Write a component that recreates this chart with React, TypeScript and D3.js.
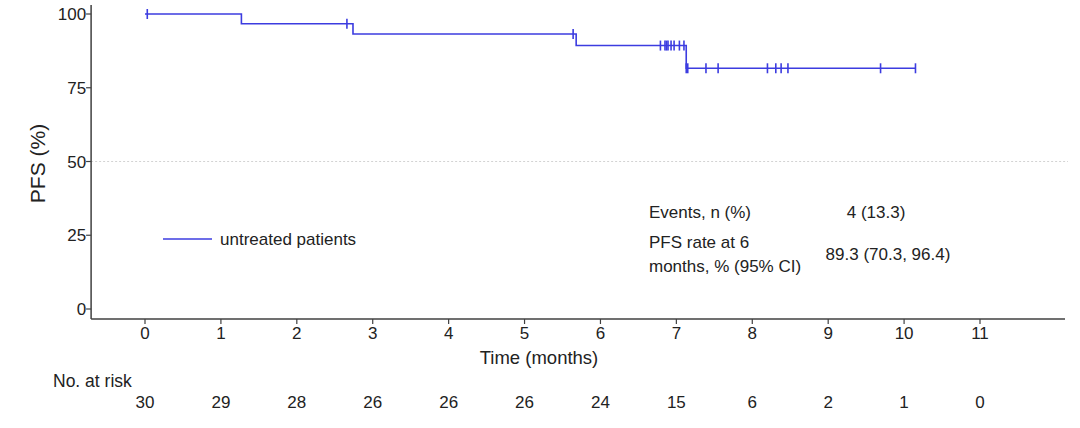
import React from 'react';
import * as d3 from 'd3';

// ── Data ──────────────────────────────────────────────────────────────────────
const stepTimes = [0, 1.27, 2.74, 5.68, 7.13];
const stepSurv = [100, 96.7, 93.2, 89.3, 81.6];
const lastTime = 10.15;

const censorTimes = [
  0.03, 2.66, 5.64, 6.79, 6.85, 6.87, 6.89, 6.93, 6.97, 7.04, 7.1,
  7.13, 7.15, 7.39, 7.55, 8.2, 8.31, 8.38, 8.47, 9.69, 10.15,
];

const xTicks = [0, 1, 2, 3, 4, 5, 6, 7, 8, 9, 10, 11];
const yTicks = [0, 25, 50, 75, 100];
const riskCounts = [30, 29, 28, 26, 26, 26, 24, 15, 6, 2, 1, 0];

const seriesName = 'untreated patients';
const statRows = [
  { label: ['Events, n (%)'], value: '4 (13.3)' },
  { label: ['PFS rate at 6', 'months, % (95% CI)'], value: '89.3 (70.3, 96.4)' },
];

// ── Styles ────────────────────────────────────────────────────────────────────
const W = 1080;
const H = 428;
const FONT = '"Liberation Sans", Arial, sans-serif';
const AXIS = '#404040';
const BLUE = '#3c3ce0';
const INK = '#222';

const survAt = (t: number) => {
  let s = stepSurv[0];
  stepTimes.forEach((st, i) => { if (t >= st) s = stepSurv[i]; });
  return s;
};

export default function App() {
  const x = d3.scaleLinear().domain([0, 11]).range([145, 980]);
  const y = d3.scaleLinear().domain([0, 100]).range([309, 14]);

  const axisX0 = x(-0.71);
  const axisX1 = x(12.12);
  const axisY = 319;

  const pts: [number, number][] = stepTimes.map((t, i) => [t, stepSurv[i]]);
  pts.push([lastTime, stepSurv[stepSurv.length - 1]]);
  const line = d3.line<[number, number]>()
    .x(d => x(d[0]))
    .y(d => y(d[1]))
    .curve(d3.curveStepAfter);

  return (
    <svg width={W} height={H} style={{ position: 'absolute', left: 0, top: 0, background: '#fff' }}
      fontFamily={FONT}>
      {/* 50% reference line */}
      <line x1={axisX0} x2={1068} y1={y(50)} y2={y(50)} stroke="#c8c8c8" strokeWidth={0.8} strokeDasharray="2,2" />

      {/* Y axis */}
      <line x1={axisX0} x2={axisX0} y1={5} y2={axisY} stroke={AXIS} strokeWidth={1.5} />
      {yTicks.map(t => (
        <g key={t}>
          <line x1={axisX0 - 5} x2={axisX0} y1={y(t)} y2={y(t)} stroke={AXIS} strokeWidth={1.2} />
          <text x={axisX0 - 5} y={y(t)} dy="0.36em" textAnchor="end" fontSize={17} fill={INK}>{t}</text>
        </g>
      ))}
      <text transform={`translate(38,${y(50) + 2}) rotate(-90)`} textAnchor="middle" dy="0.35em"
        fontSize={21} fill={INK}>PFS (%)</text>

      {/* X axis */}
      <line x1={axisX0} x2={axisX1} y1={axisY} y2={axisY} stroke={AXIS} strokeWidth={1.5} />
      {xTicks.map(t => (
        <g key={t}>
          <line x1={x(t)} x2={x(t)} y1={axisY} y2={axisY + 5} stroke={AXIS} strokeWidth={1.2} />
          <text x={x(t)} y={axisY + 20} textAnchor="middle" fontSize={17} fill={INK}>{t}</text>
        </g>
      ))}
      <text x={539} y={364} textAnchor="middle" fontSize={18.5} fill={INK}>Time (months)</text>

      {/* KM curve */}
      <path d={line(pts) || ''} fill="none" stroke={BLUE} strokeWidth={1.6} />
      {censorTimes.map((t, i) => (
        <line key={i} x1={x(t)} x2={x(t)} y1={y(survAt(t)) - 5} y2={y(survAt(t)) + 5}
          stroke={BLUE} strokeWidth={1.6} />
      ))}

      {/* Legend */}
      <line x1={163} x2={212} y1={239} y2={239} stroke={BLUE} strokeWidth={1.6} />
      <text x={220} y={239} dy="0.35em" fontSize={17} fill={INK}>{seriesName}</text>

      {/* Stats table */}
      <text x={649} y={212} dy="0.35em" fontSize={17} fill={INK}>{statRows[0].label[0]}</text>
      <text x={876} y={212} dy="0.35em" textAnchor="middle" fontSize={17} fill={INK}>{statRows[0].value}</text>
      {statRows[1].label.map((l, i) => (
        <text key={i} x={649} y={242 + i * 24} dy="0.35em" fontSize={17} fill={INK}>{l}</text>
      ))}
      <text x={888} y={254} dy="0.35em" textAnchor="middle" fontSize={17} fill={INK}>{statRows[1].value}</text>

      {/* Number at risk */}
      <text x={53} y={381} dy="0.35em" fontSize={17.5} fill={INK}>No. at risk</text>
      {riskCounts.map((n, i) => (
        <text key={i} x={x(xTicks[i])} y={402} dy="0.35em" textAnchor="middle" fontSize={17} fill={INK}>{n}</text>
      ))}
    </svg>
  );
}
